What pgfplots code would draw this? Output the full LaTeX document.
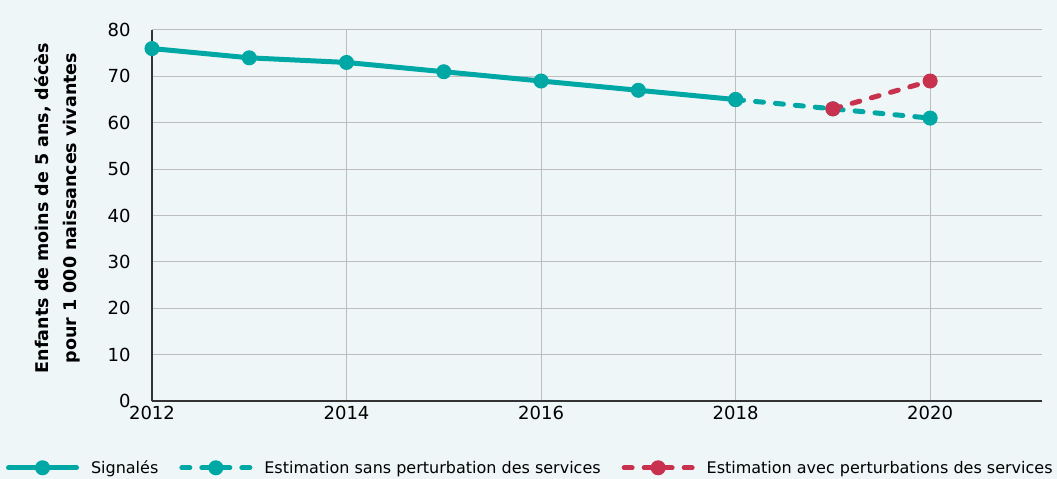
\documentclass[border=0pt]{standalone}
\usepackage{fontspec}
\setmainfont{DejaVu Sans}
\usepackage{pgfplots}
\pgfplotsset{compat=1.18}
\definecolor{bg}{HTML}{EEF6F7}
\definecolor{teal}{HTML}{00A8A5}
\definecolor{red}{HTML}{C8324F}
\definecolor{gridc}{HTML}{BDBDBD}
\begin{document}
\begin{tikzpicture}[font=\fontsize{17bp}{20bp}\selectfont]
\fill[bg] (-152bp,-78bp) rectangle (905bp,401bp);
\useasboundingbox (-152bp,-78bp) rectangle (905bp,401bp);
\begin{axis}[
  scale only axis, width=890bp, height=371bp,
  xmin=2012, xmax=2021.15, ymin=0, ymax=80,
  xtick={2012,2014,2016,2018,2020},
  ytick={0,10,...,80},
  xticklabel style={/pgf/number format/1000 sep={}},
  /pgf/number format/assume math mode=true,
  grid=major, major grid style={gridc, line width=1bp},
  axis x line*=bottom, axis y line*=left,
  axis line style={black!80, line width=1.2bp},
  tick style={draw=none},
  ticklabel style={font=\fontsize{18bp}{21bp}\selectfont},
  xticklabel style={yshift=-2bp},
  yticklabel style={xshift=-18bp},
  ylabel={\bfseries\begin{tabular}{c}Enfants de moins de 5 ans, décès\\pour 1~000 naissances vivantes\end{tabular}},
  ylabel style={at={(axis description cs:-0.107,0.52)}, anchor=center, font=\fontsize{17.5bp}{28bp}\selectfont},
  legend columns=3,
  legend style={at={(axis description cs:-0.164,-0.18)}, anchor=west, draw=none, fill=none,
    inner sep=0pt, outer sep=0pt,
    /tikz/every odd column/.append style={column sep=10bp},
    /tikz/every even column/.append style={column sep=19bp},
    font=\fontsize{16bp}{19bp}\selectfont},
  legend image code/.code={\draw[#1, mark repeat=2, mark phase=2] plot coordinates {(0bp,0bp) (34bp,0bp) (68bp,0bp)};},
]
\addplot[teal, line width=5bp, line cap=round, mark=*, mark size=7bp, mark options={solid, line width=1bp}] coordinates {
(2012,76) (2013,74) (2014,73) (2015,71) (2016,69) (2017,67) (2018,65)};
\addlegendentry{Signalés}
\addplot[teal, line width=5bp, line cap=round, dash pattern=on 8bp off 12bp, mark=*, mark size=7bp, mark options={solid, line width=1bp}] coordinates {
(2018,65) (2019,63) (2020,61)};
\addlegendentry{Estimation sans perturbation des services}
\addplot[red, line width=5bp, line cap=round, dash pattern=on 8bp off 12bp, mark=*, mark size=7bp, mark options={solid, line width=1bp}] coordinates {
(2019,63) (2020,69)};
\addlegendentry{Estimation avec perturbations des services}
\end{axis}
\end{tikzpicture}
\end{document}
